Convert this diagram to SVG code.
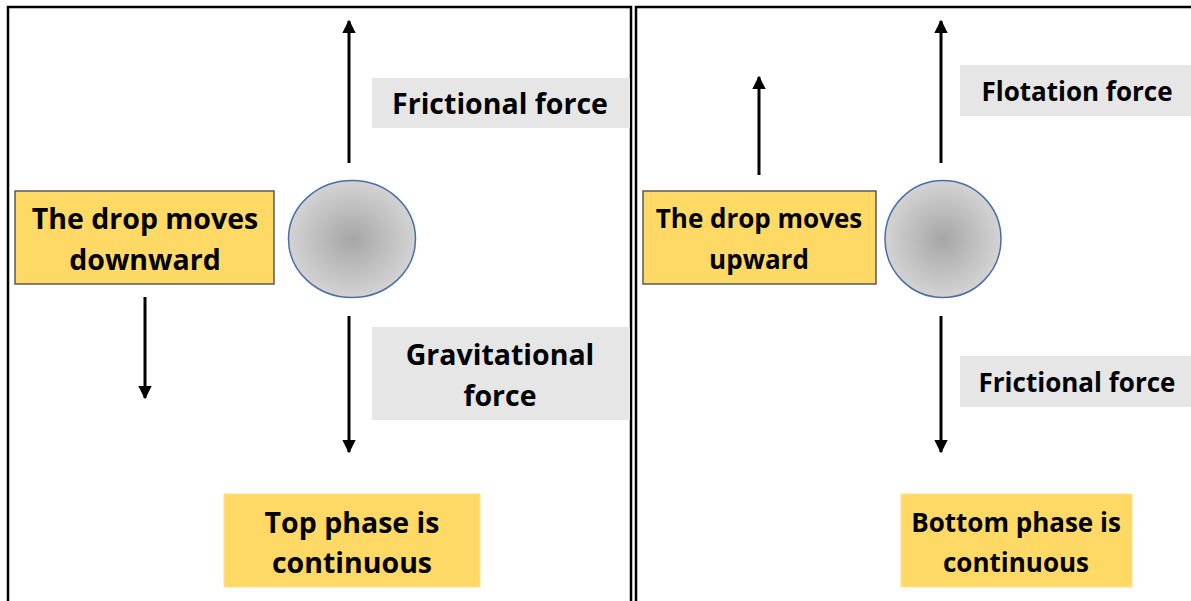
<svg xmlns="http://www.w3.org/2000/svg" width="1191" height="601" viewBox="0 0 1191 601">
<defs>
<radialGradient id="drop" cx="50%" cy="50%" r="50%">
<stop offset="0" stop-color="#a6a6a6"/>
<stop offset="1" stop-color="#d3d3d3"/>
</radialGradient>
<marker id="ah" viewBox="0 0 10 10" refX="9" refY="5" markerWidth="4.5" markerHeight="4.5" orient="auto" markerUnits="strokeWidth">
<path d="M0,0 L10,5 L0,10 z" fill="#000"/>
</marker>
<style>
.frame{fill:none;stroke:#000;stroke-width:2.5}
.arrow{stroke:#000;stroke-width:3;fill:none;marker-end:url(#ah)}
.lbl{fill:#e6e6e6}
.ybox{fill:#ffd966;stroke:#595959;stroke-width:1.5}
.ybox2{fill:#ffd966;stroke:#ffe28a;stroke-width:1}
.drop{fill:url(#drop);stroke:#4a6ea8;stroke-width:1.5}
text{font-family:"Open Sans","Liberation Sans",sans-serif;font-weight:bold;font-size:26px;fill:#000;text-anchor:middle}
.big{font-size:28.5px}
</style>
</defs>
<g id="frames">
<path class="frame" d="M8,605 V7 H631 V605"/>
<path class="frame" d="M636,605 V7 H1195"/>
</g>
<g id="connectors">
<line class="arrow" x1="349" y1="163" x2="349" y2="21"/>
<line class="arrow" x1="145" y1="297" x2="145" y2="398"/>
<line class="arrow" x1="349" y1="316" x2="349" y2="452"/>
<line class="arrow" x1="759" y1="175" x2="759" y2="77"/>
<line class="arrow" x1="941" y1="163" x2="941" y2="21"/>
<line class="arrow" x1="941" y1="316" x2="941" y2="452"/>
</g>
<g id="drop-left"><ellipse class="drop" cx="352" cy="239" rx="63.5" ry="58.5"/></g>
<g id="drop-right"><ellipse class="drop" cx="943" cy="239" rx="58" ry="58.5"/></g>
<g id="frictional-left">
<rect class="lbl" x="372" y="78" width="258" height="50"/>
<text class="big" x="500" y="114">Frictional force</text>
</g>
<g id="gravitational">
<rect class="lbl" x="372" y="327" width="258" height="93"/>
<text class="big" x="500" y="365">Gravitational</text>
<text class="big" x="500" y="406">force</text>
</g>
<g id="moves-down">
<rect class="ybox" x="15" y="191" width="259" height="93"/>
<text class="big" x="145" y="229">The drop moves</text>
<text class="big" x="145" y="270">downward</text>
</g>
<g id="top-phase">
<rect class="ybox2" x="224" y="494" width="256" height="93"/>
<text class="big" x="352" y="533">Top phase is</text>
<text class="big" x="352" y="573">continuous</text>
</g>
<g id="flotation">
<rect class="lbl" x="960" y="65" width="231" height="51"/>
<text x="1077" y="101">Flotation force</text>
</g>
<g id="frictional-right">
<rect class="lbl" x="960" y="356" width="231" height="51"/>
<text x="1077" y="392">Frictional force</text>
</g>
<g id="moves-up">
<rect class="ybox" x="643" y="191" width="233" height="93"/>
<text x="759" y="228">The drop moves</text>
<text x="759" y="269">upward</text>
</g>
<g id="bottom-phase">
<rect class="ybox2" x="901" y="494" width="231" height="93"/>
<text x="1016" y="532">Bottom phase is</text>
<text x="1016" y="572">continuous</text>
</g>
</svg>
